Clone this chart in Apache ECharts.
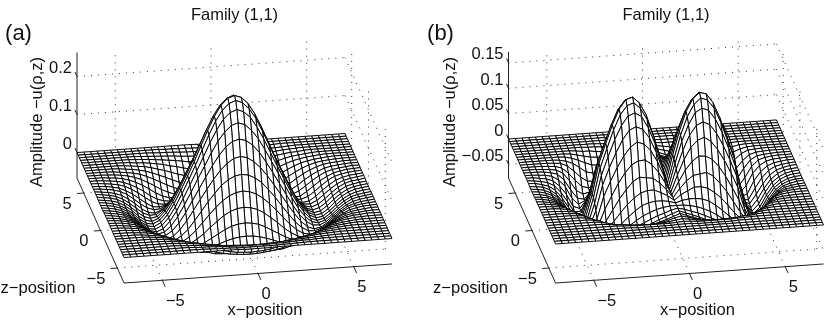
<!DOCTYPE html>
<html><head><meta charset="utf-8">
<style>html,body{margin:0;padding:0;background:#fff}#c{width:830px;height:320px}</style>
<script src="https://cdn.jsdelivr.net/npm/echarts@6/dist/echarts.min.js"></script>
</head><body><div id="c"></div>
<script>
// Amplitude ×1000: surface is mirrored in x, in z and across x=z, one triangle stored. Row = |x| node, column = |z| node.
const amplitudeA = [
[263],
[257,250],
[240,233,217],
[212,206,190,167],
[176,171,158,137,111],
[137,133,121,104,82,57],
[97,94,85,72,52,31,7],
[60,57,50,38,22,4,-16,-35],
[24,22,16,6,-8,-22,-38,-51,-61],
[-10,-12,-16,-24,-34,-44,-54,-62,-67,-65],
[-38,-39,-42,-47,-53,-60,-64,-66,-65,-59,-50],
[-58,-58,-60,-62,-64,-67,-65,-64,-57,-49,-38,-28],
[-67,-67,-67,-66,-65,-64,-59,-53,-45,-36,-27,-19,-12],
[-64,-64,-62,-60,-57,-53,-47,-40,-32,-25,-18,-12,-8,-5],
[-52,-51,-50,-47,-43,-38,-33,-27,-21,-16,-11,-7,-5,-3,-1],
[-36,-36,-34,-32,-29,-25,-20,-17,-12,-9,-6,-4,-3,-1,0,0],
[-22,-22,-21,-19,-17,-14,-11,-9,-7,-5,-3,-2,-1,0,0,0,0],
[-12,-12,-11,-10,-9,-8,-6,-5,-4,-3,-2,-1,0,0,0,0,0,0],
[-6,-6,-6,-5,-5,-4,-3,-2,-2,-1,0,0,0,0,0,0,0,0,0],
[-3,-3,-3,-3,-2,-2,-1,-1,0,0,0,0,0,0,0,0,0,0,0,0],
[-1,-1,-1,0,0,0,0,0,0,0,0,0,0,0,0,0,0,0,0,0,0]
];
// Amplitude ×1000: mirrored in x and z. Row = |x| node, column = |z| node.
const amplitudeB = [
[0,0,0,0,0,0,0,0,0,0,0,0,0,0,0,0,0,0,0,0,0],
[52,49,46,40,33,25,17,10,4,0,-3,-5,-5,-3,-2,-1,0,0,0,0,0],
[98,95,88,76,63,47,31,17,6,-2,-8,-10,-10,-7,-4,-2,-1,0,0,0,0],
[136,131,120,105,86,63,41,23,6,-5,-12,-15,-14,-10,-6,-2,-1,0,0,0,0],
[160,154,143,123,99,73,43,23,4,-10,-18,-21,-18,-12,-6,-2,-1,0,0,0,0],
[172,166,151,129,104,72,45,19,-1,-16,-24,-26,-21,-14,-7,-2,-1,0,0,0,0],
[168,161,146,123,95,65,37,10,-10,-24,-30,-30,-24,-14,-6,-2,-1,0,0,0,0],
[150,144,128,105,78,50,22,-2,-21,-33,-36,-32,-23,-13,-6,-2,-1,0,0,0,0],
[120,115,101,80,56,30,5,-17,-33,-40,-40,-34,-22,-11,-5,-1,0,0,0,0,0],
[84,79,68,51,30,6,-16,-33,-43,-46,-42,-31,-20,-10,-3,-1,0,0,0,0,0],
[46,42,32,18,1,-19,-37,-46,-52,-49,-41,-28,-15,-7,-3,0,0,0,0,0,0],
[-14,-16,-22,-31,-42,-51,-57,-60,-55,-45,-32,-18,-9,-4,-1,0,0,0,0,0,0],
[-59,-60,-61,-64,-67,-67,-64,-57,-47,-32,-19,-9,-4,-1,0,0,0,0,0,0,0],
[-76,-75,-74,-71,-68,-62,-51,-40,-27,-17,-8,-4,-1,0,0,0,0,0,0,0,0],
[-63,-62,-58,-53,-46,-37,-27,-19,-11,-6,-2,-1,0,0,0,0,0,0,0,0,0],
[-40,-39,-37,-33,-27,-20,-13,-7,-4,-2,-1,0,0,0,0,0,0,0,0,0,0],
[-22,-21,-20,-17,-13,-9,-5,-3,-2,-1,0,0,0,0,0,0,0,0,0,0,0],
[-11,-11,-10,-8,-6,-4,-2,-1,-1,0,0,0,0,0,0,0,0,0,0,0,0],
[-5,-5,-4,-4,-3,-2,-1,0,0,0,0,0,0,0,0,0,0,0,0,0,0],
[-2,-2,-2,-1,-1,0,0,0,0,0,0,0,0,0,0,0,0,0,0,0,0],
[-1,-1,-1,0,0,0,0,0,0,0,0,0,0,0,0,0,0,0,0,0,0]
];
const positionTicks = [-5, 0, 5];
const amplitudeTicksA = [0, 0.1, 0.2];
const amplitudeTicksB = [-0.05, 0, 0.05, 0.1, 0.15];
const titleText = 'Family (1,1)';
const xName = 'x\u2212position';
const zName = 'z\u2212position';
const uName = 'Amplitude \u2212u(\u03c1,z)';

const nodeStep = 0.35, nodeMax = 20, range = 7;
const FONT = '16.5px "Liberation Sans", Arial, sans-serif';
const panels = [
  { cx: 234.5, cy: 221, uScale: 380, uMin: -0.067, uMax: 0.263, uGrid: 0.252, ticks: amplitudeTicksA,
    read: (i, j) => { const a = Math.max(Math.abs(i), Math.abs(j)), b = Math.min(Math.abs(i), Math.abs(j)); return amplitudeA[a][b] / 1000; } },
  { cx: 666, cy: 221, uScale: 507, uMin: -0.077, uMax: 0.172, uGrid: 0.164, ticks: amplitudeTicksB,
    read: (i, j) => amplitudeB[Math.abs(i)][Math.abs(j)] / 1000 }
];
const ex = [19.14, -1.36], ez = [-3.36, -7.5];
function project(p, x, z, u) {
  return [p.cx + x * ex[0] + z * ez[0], p.cy + x * ex[1] + z * ez[1] - (u - p.uMin) * p.uScale];
}
function fmt(v) { return String(v).replace('-', '\u2212'); }

const series = [];
panels.forEach(p => {
  // back walls and floor grid (dotted)
  const dots = [];
  p.ticks.forEach(u => {
    dots.push([-range, range, u, range, range, u]);
    dots.push([range, range, u, range, -range, u]);
  });
  positionTicks.forEach(t => {
    dots.push([t, range, p.uMin, t, range, p.uGrid]);
    dots.push([range, t, p.uMin, range, t, p.uGrid]);
    dots.push([t, -range, p.uMin, t, range, p.uMin]);
    dots.push([-range, t, p.uMin, range, t, p.uMin]);
  });
  const segSeries = (data, style, z) => ({
    type: 'custom', coordinateSystem: 'cartesian2d', silent: true, animation: false, clip: false, z,
    data,
    renderItem: (params, api) => {
      const a = api.coord(project(p, api.value(0), api.value(1), api.value(2)));
      const b = api.coord(project(p, api.value(3), api.value(4), api.value(5)));
      return { type: 'line', shape: { x1: a[0], y1: a[1], x2: b[0], y2: b[1] }, style };
    }
  });
  series.push(segSeries(dots, { stroke: '#333', lineWidth: 1, lineDash: [1, 6], fill: null }, 1));

  // solid box edges and ticks
  const edges = [
    [-range, range, p.uMin, -range, range, p.uMax],
    [-range, range, p.uMin, -range, -range, p.uMin],
    [-range, -range, p.uMin, range, -range, p.uMin]
  ];
  positionTicks.forEach(t => {
    edges.push([t, -range, p.uMin, t, -range - 0.85, p.uMin]);
    edges.push([-range, t, p.uMin, -range - 0.35, t, p.uMin]);
  });
  p.ticks.forEach(u => edges.push([-range, range, u, -range, range + 0.6, u]));
  series.push(segSeries(edges, { stroke: '#222', lineWidth: 1, fill: null }, 2));

  // surface cells, far to near
  const cells = [];
  for (let j = nodeMax - 1; j >= -nodeMax; j--) {
    for (let i = nodeMax - 1; i >= -nodeMax; i--) {
      cells.push([i, j, p.read(i, j), p.read(i + 1, j), p.read(i + 1, j + 1), p.read(i, j + 1)]);
    }
  }
  series.push({
    type: 'custom', coordinateSystem: 'cartesian2d', silent: true, animation: false, clip: false, z: 3,
    progressive: 0, data: cells,
    renderItem: (params, api) => {
      const i = api.value(0), j = api.value(1);
      const pts = [
        [i, j, api.value(2)], [i + 1, j, api.value(3)], [i + 1, j + 1, api.value(4)], [i, j + 1, api.value(5)]
      ].map(n => api.coord(project(p, n[0] * nodeStep, n[1] * nodeStep, n[2])));
      return { type: 'polygon', shape: { points: pts }, style: { fill: '#fff', stroke: '#000', lineWidth: 0.95 } };
    }
  });

  // tick labels
  const labels = [];
  positionTicks.forEach(t => {
    const a = project(p, t, -range, p.uMin);
    labels.push({ text: fmt(t), at: [a[0] + 8 + (t < 0 ? 5 : 0), a[1] + 21], align: 'center' });
    const b = project(p, -range, t, p.uMin);
    labels.push({ text: fmt(t), at: [b[0] - 12, b[1] + 11], align: 'right' });
  });
  p.ticks.forEach(u => {
    const a = project(p, -range, range, u);
    labels.push({ text: fmt(u), at: [a[0] - 5, a[1] - 8], align: 'right' });
  });
  series.push({
    type: 'custom', coordinateSystem: 'cartesian2d', silent: true, animation: false, clip: false, z: 4,
    data: labels.map((l, k) => [k]),
    renderItem: (params, api) => {
      const l = labels[api.value(0)], c = api.coord(l.at);
      return { type: 'text', style: { text: l.text, x: c[0], y: c[1], align: l.align, verticalAlign: 'middle', font: FONT, fill: '#111' } };
    }
  });
});

const txt = (text, x, y, extra) => Object.assign({
  type: 'text', x, y, silent: true,
  style: { text, font: FONT, fill: '#111', align: 'center', verticalAlign: 'middle' }
}, extra || {});

const chart = echarts.init(document.getElementById('c'), null, { renderer: 'canvas' });
chart.setOption({
  animation: false,
  backgroundColor: '#fff',
  grid: { left: 0, top: 0, width: 830, height: 320 },
  xAxis: { type: 'value', min: 0, max: 830, show: false },
  yAxis: { type: 'value', min: 0, max: 320, inverse: true, show: false },
  series,
  graphic: [
    txt(titleText, 234.5, 15), txt(titleText, 666, 15),
    { type: 'text', x: 18.5, y: 34, silent: true, style: { text: '(a)', font: '22px "Liberation Sans", Arial, sans-serif', fill: '#111', align: 'center', verticalAlign: 'middle' } },
    { type: 'text', x: 440.5, y: 34, silent: true, style: { text: '(b)', font: '22px "Liberation Sans", Arial, sans-serif', fill: '#111', align: 'center', verticalAlign: 'middle' } },
    txt(uName, 37, 122, { rotation: Math.PI / 2 }), txt(uName, 450, 122, { rotation: Math.PI / 2 }),
    txt(zName, 38, 288), txt(zName, 470.5, 288),
    txt(xName, 265, 310), txt(xName, 697.5, 310)
  ]
});
</script></body></html>
